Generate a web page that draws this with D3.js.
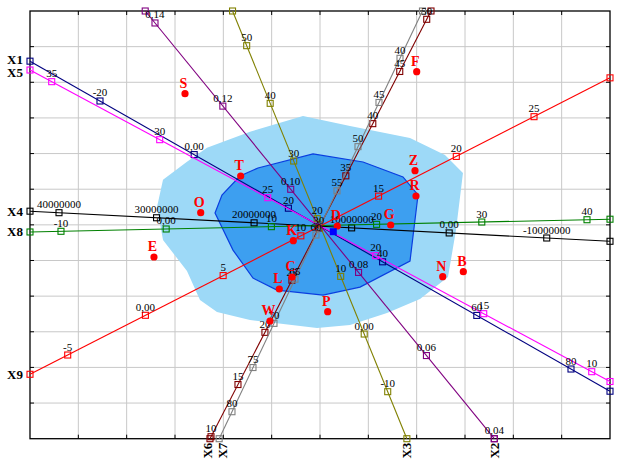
<!DOCTYPE html>
<html><head><meta charset="utf-8">
<script src="https://cdn.jsdelivr.net/npm/d3@7"></script>
<style>html,body{margin:0;padding:0;background:#fff;} svg{display:block;}</style>
</head><body><svg id="c" width="624" height="468"></svg>
<script>
// ---------- data ----------
const gridTicks = [-6,-5,-4,-3,-2,-1,0,1,2,3,4,5,6];

const pointNames = ["S","F","T","O","E","Z","R","G","D","K","C","L","P","W","N","B"];
const pointX = [-2.793, 2.001, -1.641, -2.468, -3.435, 1.966, 1.986, 1.463, 0.358, -0.552, -0.579, -0.842, 0.159, -1.035, 2.539, 2.965];
const pointY = [3.680, 4.297, 1.371, 0.341, -0.902, 1.519, 0.809, -0.004, -0.032, -0.445, -1.463, -1.800, -2.437, -2.698, -1.455, -1.315];

const originMark = [0.275, -0.192];

const outerHullX = [-0.352, 0.621, 1.862, 2.586, 2.958, 2.814, 2.648, 2.069, 1.386, 0.621, -0.062, -1.448, -2.131, -2.483, -2.752, -3.248, -3.372, -3.248, -2.752, -2.338, -1.448];
const outerHullY = [3.054, 2.774, 2.437, 1.960, 1.455, -0.145, -1.463, -2.080, -2.473, -2.810, -2.894, -2.670, -2.446, -2.109, -1.295, -0.425, 0.501, 1.264, 1.769, 2.162, 2.611];
const innerHullX = [-0.145, 0.890, 1.717, 2.028, 1.862, 0.828, 0.062, -0.890, -1.386, -1.800, -2.172, -2.028, -1.655, -1.283];
const innerHullY = [1.989, 1.764, 1.343, 0.838, -1.017, -1.747, -1.971, -1.831, -1.494, -0.709, 0.333, 0.838, 1.371, 1.595];

const axisNames = ["X1","X5","X4","X8","X9","X6","X7","X3","X2"];
const axisColors = ["#000080","#FF00FF","#000000","#008000","#FF0000","#800000","#808080","#808000","#800080"];
const axisTickValues = [
  [-20, 0, 20, 40, 60, 80],
  [35, 30, 25, 20, 15, 10],
  [40000000, 30000000, 20000000, 10000000, 0, -10000000],
  [-10, 0, 10, 20, 30, 40],
  [-5, 0, 5, 10, 15, 20, 25],
  [10, 15, 20, 25, 30, 35, 40, 45, 50],
  [80, 75, 70, 65, 60, 55, 50, 45, 40],
  [50, 40, 30, 20, 10, 0, -10],
  [0.14, 0.12, 0.10, 0.08, 0.06, 0.04]
];
const axisTickLabels = [
  ["-20","0,00","20","40","60","80"],
  ["35","30","25","20","15","10"],
  ["40000000","30000000","20000000","10000000","0,00","-10000000"],
  ["-10","0,00","10","20","30","40"],
  ["-5","0,00","5","10","15","20","25"],
  ["10","15","20","25","30","35","40","45","50"],
  ["80","75","70","65","60","55","50","45","40"],
  ["50","40","30","20","10","0,00","-10"],
  ["0,14","0,12","0,10","0,08","0,06","0,04"]
];
// calibration: two reference values and their positions in plot units
const axisRefValues = [[-20,80],[35,10],[40000000,-10000000],[-10,40],[-5,25],[10,50],[80,40],[50,-10],[0.14,0.04]];
const axisRefStart = [[-4.552,3.475],[-5.551,4.017],[-5.400,0.341],[-5.359,-0.181],[-5.220,-3.652],[-2.255,-5.944],[-1.821,-5.243],[-1.517,5.027],[-3.414,5.664]];
const axisRefEnd   = [[5.193,-4.045],[5.622,-4.120],[4.691,-0.369],[5.524,0.144],[4.428,3.035],[2.208,5.767],[1.655,4.673],[1.401,-4.681],[3.606,-6.000]];

// ---------- drawing ----------
const svg = d3.select("#c");
const W = 624, H = 468;
const x = d3.scaleLinear().domain([-6, 6]).range([30, 610]);
const y = d3.scaleLinear().domain([-6, 6]).range([438.7, 11]);
const serif = "'Liberation Serif','Times New Roman',serif";

svg.append("rect").attr("width", W).attr("height", H).attr("fill", "#fff");

// grid
const g = svg.append("g");
g.selectAll("line.gx").data(gridTicks.slice(1, -1)).join("line")
  .attr("x1", d => x(d)).attr("x2", d => x(d)).attr("y1", y(-6)).attr("y2", y(6))
  .attr("stroke", "#c8c8c8").attr("stroke-width", 1);
g.selectAll("line.gy").data(gridTicks.slice(1, -1)).join("line")
  .attr("class","gy")
  .attr("y1", d => y(d)).attr("y2", d => y(d)).attr("x1", x(-6)).attr("x2", x(6))
  .attr("stroke", "#c8c8c8").attr("stroke-width", 1);

// hulls
const hullLine = d3.line().x(d => x(d[0])).y(d => y(d[1])).curveLinearClosed;
svg.append("path").datum(outerHullX.map((v, i) => [v, outerHullY[i]]))
  .attr("d", d3.line().x(d => x(d[0])).y(d => y(d[1])).curve(d3.curveLinearClosed))
  .attr("fill", "#9dd9f7").attr("stroke", "none");
svg.append("path").datum(innerHullX.map((v, i) => [v, innerHullY[i]]))
  .attr("d", d3.line().x(d => x(d[0])).y(d => y(d[1])).curve(d3.curveLinearClosed))
  .attr("fill", "#3d9ff0").attr("stroke", "#0a3ee0").attr("stroke-width", 1.2);

// frame and ticks
const frame = svg.append("g");
frame.append("rect").attr("x", x(-6)).attr("y", y(6)).attr("width", x(6) - x(-6)).attr("height", y(-6) - y(6))
  .attr("fill", "none").attr("stroke", "#000").attr("stroke-width", 1.3);
const tk = 4;
gridTicks.slice(1, -1).forEach(t => {
  frame.append("line").attr("x1", x(-6)).attr("x2", x(-6) + tk).attr("y1", y(t)).attr("y2", y(t)).attr("stroke", "#000");
  frame.append("line").attr("x1", x(6)).attr("x2", x(6) - tk).attr("y1", y(t)).attr("y2", y(t)).attr("stroke", "#000");
  frame.append("line").attr("y1", y(-6)).attr("y2", y(-6) - tk).attr("x1", x(t)).attr("x2", x(t)).attr("stroke", "#000");
  frame.append("line").attr("y1", y(6)).attr("y2", y(6) + tk).attr("x1", x(t)).attr("x2", x(t)).attr("stroke", "#000");
});

// biplot axes
const axesG = svg.append("g");
const labelG = svg.append("g");
const leftLabels = [], bottomLabels = [];
axisNames.forEach((name, i) => {
  const [a, b] = axisRefValues[i];
  const pa = axisRefStart[i], pb = axisRefEnd[i];
  const d = [(pb[0] - pa[0]) / (b - a), (pb[1] - pa[1]) / (b - a)];
  const pos = v => [pa[0] + (v - a) * d[0], pa[1] + (v - a) * d[1]];
  let lo = -Infinity, hi = Infinity;
  [0, 1].forEach(k => {
    if (Math.abs(d[k]) > 1e-12) {
      const v1 = a + (-6 - pa[k]) / d[k], v2 = a + (6 - pa[k]) / d[k];
      lo = Math.max(lo, Math.min(v1, v2)); hi = Math.min(hi, Math.max(v1, v2));
    }
  });
  const e1 = pos(lo), e2 = pos(hi);
  const col = axisColors[i];
  axesG.append("line").attr("x1", x(e1[0])).attr("y1", y(e1[1])).attr("x2", x(e2[0])).attr("y2", y(e2[1]))
    .attr("stroke", col).attr("stroke-width", 1.1);
  const sq = 6;
  const marks = [e1, e2].concat(axisTickValues[i].map(pos));
  axesG.selectAll(null).data(marks).join("rect")
    .attr("x", p => x(p[0]) - sq / 2).attr("y", p => y(p[1]) - sq / 2)
    .attr("width", sq).attr("height", sq)
    .attr("fill", "none").attr("stroke", col).attr("stroke-width", 1.1);
  labelG.selectAll(null).data(axisTickValues[i]).join("text")
    .attr("x", v => x(pos(v)[0])).attr("y", v => y(pos(v)[1]) - 4.5)
    .attr("text-anchor", "middle").attr("font-family", serif).attr("font-size", 11)
    .attr("fill", "#000").text((v, j) => axisTickLabels[i][j]);
  const ends = [e1, e2];
  const left = ends.find(p => Math.abs(p[0] + 6) < 1e-6);
  if (left) leftLabels.push({name, pos: y(left[1])});
  else {
    const bot = ends.find(p => Math.abs(p[1] + 6) < 1e-6) || ends[0];
    bottomLabels.push({name, pos: x(bot[0])});
  }
});

function spread(arr, gap) {
  arr.sort((p, q) => p.pos - q.pos);
  for (let it = 0; it < 20; it++) {
    for (let k = 1; k < arr.length; k++) {
      const diff = arr[k].pos - arr[k - 1].pos;
      if (diff < gap) { const s = (gap - diff) / 2; arr[k].pos += s; arr[k - 1].pos -= s; }
    }
  }
}
spread(leftLabels, 13);
spread(bottomLabels, 15);

const nameG = svg.append("g").attr("font-family", serif).attr("font-weight", "bold").attr("font-size", 13).attr("fill", "#000");
leftLabels.forEach(l => {
  nameG.append("text").attr("x", 23).attr("y", l.pos + 4.5).attr("text-anchor", "end").text(l.name);
});
bottomLabels.forEach(l => {
  nameG.append("text").attr("transform", `translate(${l.pos + 4.5},${y(-6) + 4}) rotate(-90)`)
    .attr("text-anchor", "end").text(l.name);
});

// points
const ptG = svg.append("g");
ptG.selectAll("circle").data(pointNames).join("circle")
  .attr("cx", (n, i) => x(pointX[i])).attr("cy", (n, i) => y(pointY[i])).attr("r", 3.6)
  .attr("fill", "#ff0000");
ptG.selectAll("text").data(pointNames).join("text")
  .attr("x", (n, i) => x(pointX[i]) - 1.5).attr("y", (n, i) => y(pointY[i]) - 6)
  .attr("text-anchor", "middle").attr("font-family", serif).attr("font-weight", "bold")
  .attr("font-size", 14).attr("fill", "#ff0000").text(n => n);

// origin marker
svg.append("rect").attr("x", x(originMark[0]) - 3.5).attr("y", y(originMark[1]) - 3.5)
  .attr("width", 7).attr("height", 7).attr("fill", "#0000ff");
</script>
</body></html>
